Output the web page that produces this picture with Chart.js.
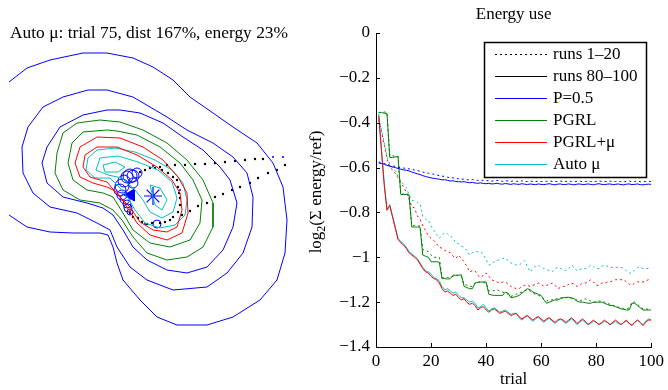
<!DOCTYPE html>
<html>
<head>
<meta charset="utf-8">
<script src="https://cdn.jsdelivr.net/npm/chart.js@4.4.1/dist/chart.umd.min.js"></script>
<style>
  html, body { margin: 0; padding: 0; background: #fff; }
  #wrap { position: relative; width: 668px; height: 390px; }
  #policy { position: absolute; left: 0; top: 0; }
  #energy { position: absolute; left: 300px; top: 0; }
</style>
</head>
<body>
<div id="wrap">
  <canvas id="policy" width="300" height="390"></canvas>
  <canvas id="energy" width="368" height="390"></canvas>
</div>
<script>
// Left: cost contours of the policy plane with the Auto-mu trajectory (trial 75).
// Right: log2 energy use per trial, runs 1-20 dotted vs runs 80-100 solid.

const FONT = '"Liberation Serif", "DejaVu Serif", serif';
const leftTitle = 'Auto \u03bc: trial 75, dist 167%, energy 23%';
const rightTitle = 'Energy use';
const xTitle = 'trial';

const trials = Array.from({ length: 100 }, (_, i) => i + 1);
const xTicks = [0, 20, 40, 60, 80, 100];
const yTicks = [0, -0.2, -0.4, -0.6, -0.8, -1, -1.2, -1.4];

const methods = ['P=0.5', 'PGRL', 'PGRL+\u03bc', 'Auto \u03bc'];
const methodColors = ['#0000ff', '#008000', '#ff0000', '#00bfbf'];
const runLabels = ['runs 1\u201320', 'runs 80\u2013100'];

const p05Early = [
  -0.575,-0.578,-0.582,-0.586,-0.590,-0.592,-0.595,-0.598,-0.600,-0.602,
  -0.604,-0.606,-0.608,-0.611,-0.613,-0.616,-0.620,-0.622,-0.625,-0.628,
  -0.630,-0.633,-0.636,-0.638,-0.640,-0.643,-0.645,-0.646,-0.648,-0.650,
  -0.652,-0.651,-0.654,-0.655,-0.653,-0.656,-0.657,-0.655,-0.658,-0.659,
  -0.657,-0.660,-0.659,-0.657,-0.660,-0.661,-0.658,-0.660,-0.662,-0.659,
  -0.661,-0.662,-0.659,-0.661,-0.663,-0.660,-0.662,-0.663,-0.660,-0.662,
  -0.663,-0.661,-0.659,-0.662,-0.664,-0.661,-0.660,-0.663,-0.662,-0.660,
  -0.662,-0.664,-0.661,-0.660,-0.663,-0.662,-0.660,-0.662,-0.664,-0.661,
  -0.659,-0.662,-0.663,-0.661,-0.660,-0.663,-0.662,-0.660,-0.663,-0.664,
  -0.661,-0.660,-0.663,-0.662,-0.660,-0.663,-0.664,-0.662,-0.661,-0.662
];
const p05Late = [
  -0.580,-0.582,-0.585,-0.590,-0.594,-0.597,-0.600,-0.604,-0.607,-0.610,
  -0.612,-0.615,-0.620,-0.624,-0.628,-0.631,-0.636,-0.640,-0.643,-0.646,
  -0.648,-0.650,-0.652,-0.655,-0.654,-0.657,-0.660,-0.659,-0.662,-0.663,
  -0.664,-0.663,-0.666,-0.668,-0.666,-0.669,-0.670,-0.668,-0.671,-0.672,
  -0.670,-0.673,-0.672,-0.670,-0.673,-0.674,-0.671,-0.673,-0.675,-0.672,
  -0.674,-0.675,-0.672,-0.674,-0.676,-0.673,-0.675,-0.676,-0.673,-0.675,
  -0.676,-0.674,-0.672,-0.675,-0.677,-0.674,-0.673,-0.676,-0.675,-0.673,
  -0.675,-0.677,-0.674,-0.673,-0.676,-0.675,-0.673,-0.675,-0.677,-0.674,
  -0.672,-0.675,-0.676,-0.674,-0.673,-0.676,-0.675,-0.673,-0.676,-0.677,
  -0.674,-0.673,-0.676,-0.675,-0.673,-0.676,-0.677,-0.675,-0.674,-0.675
];
const pgrlEarly = [
  -0.355,-0.352,-0.352,-0.355,-0.550,-0.548,-0.548,-0.550,-0.720,-0.718,
  -0.718,-0.720,-0.860,-0.858,-0.860,-0.860,-0.965,-0.970,-0.975,-0.990,
  -1.000,-1.000,-1.000,-1.090,-1.090,-1.090,-1.088,-1.085,-1.080,-1.082,
  -1.085,-1.120,-1.125,-1.130,-1.130,-1.115,-1.110,-1.110,-1.112,-1.115,
  -1.150,-1.150,-1.148,-1.145,-1.150,-1.155,-1.160,-1.165,-1.175,-1.170,
  -1.165,-1.160,-1.155,-1.150,-1.145,-1.150,-1.160,-1.165,-1.170,-1.175,
  -1.185,-1.195,-1.190,-1.190,-1.185,-1.185,-1.180,-1.180,-1.178,-1.180,
  -1.185,-1.190,-1.190,-1.195,-1.190,-1.185,-1.190,-1.195,-1.200,-1.200,
  -1.195,-1.195,-1.200,-1.205,-1.210,-1.215,-1.220,-1.222,-1.225,-1.228,
  -1.230,-1.225,-1.200,-1.200,-1.210,-1.220,-1.230,-1.230,-1.232,-1.230
];
const pgrlLate = [
  -0.355,-0.355,-0.357,-0.360,-0.555,-0.555,-0.553,-0.550,-0.720,-0.720,
  -0.720,-0.722,-0.865,-0.865,-0.865,-0.866,-0.990,-0.995,-1.000,-1.020,
  -1.020,-1.020,-1.022,-1.095,-1.095,-1.097,-1.095,-1.080,-1.080,-1.080,
  -1.078,-1.130,-1.135,-1.140,-1.140,-1.115,-1.112,-1.110,-1.110,-1.110,
  -1.165,-1.168,-1.170,-1.170,-1.170,-1.170,-1.155,-1.160,-1.180,-1.178,
  -1.175,-1.170,-1.160,-1.150,-1.140,-1.145,-1.155,-1.160,-1.165,-1.170,
  -1.190,-1.205,-1.200,-1.195,-1.190,-1.190,-1.185,-1.180,-1.180,-1.178,
  -1.180,-1.185,-1.195,-1.200,-1.200,-1.202,-1.205,-1.205,-1.200,-1.200,
  -1.200,-1.200,-1.205,-1.210,-1.215,-1.215,-1.220,-1.225,-1.230,-1.232,
  -1.235,-1.235,-1.205,-1.205,-1.215,-1.225,-1.235,-1.235,-1.235,-1.235
];
const muEarly = [
  -0.390,-0.440,-0.500,-0.560,-0.600,-0.610,-0.625,-0.645,-0.670,-0.685,
  -0.710,-0.740,-0.775,-0.780,-0.815,-0.830,-0.860,-0.880,-0.905,-0.915,
  -0.925,-0.940,-0.955,-0.960,-0.970,-0.975,-0.980,-0.995,-1.005,-0.990,
  -1.005,-1.020,-1.040,-1.065,-1.060,-1.060,-1.080,-1.090,-1.080,-1.070,
  -1.085,-1.100,-1.105,-1.110,-1.115,-1.110,-1.110,-1.120,-1.130,-1.135,
  -1.140,-1.140,-1.130,-1.125,-1.125,-1.130,-1.125,-1.120,-1.115,-1.120,
  -1.130,-1.125,-1.120,-1.115,-1.125,-1.140,-1.135,-1.130,-1.130,-1.120,
  -1.115,-1.120,-1.130,-1.125,-1.115,-1.115,-1.110,-1.100,-1.110,-1.125,
  -1.125,-1.115,-1.115,-1.110,-1.110,-1.105,-1.100,-1.100,-1.100,-1.100,
  -1.110,-1.120,-1.125,-1.115,-1.110,-1.110,-1.110,-1.105,-1.100,-1.095
];
const muLate = [
  -0.370,-0.530,-0.680,-0.790,-0.770,-0.820,-0.870,-0.920,-0.935,-0.945,
  -0.960,-0.980,-0.990,-1.000,-1.010,-1.030,-1.050,-1.065,-1.070,-1.085,
  -1.095,-1.100,-1.115,-1.140,-1.155,-1.150,-1.160,-1.170,-1.165,-1.180,
  -1.190,-1.185,-1.200,-1.210,-1.205,-1.215,-1.235,-1.225,-1.220,-1.235,
  -1.245,-1.235,-1.230,-1.240,-1.250,-1.245,-1.240,-1.250,-1.260,-1.255,
  -1.250,-1.265,-1.275,-1.265,-1.260,-1.270,-1.280,-1.270,-1.265,-1.275,
  -1.285,-1.275,-1.270,-1.280,-1.290,-1.280,-1.275,-1.280,-1.290,-1.280,
  -1.270,-1.280,-1.295,-1.285,-1.275,-1.285,-1.300,-1.290,-1.280,-1.290,
  -1.300,-1.290,-1.280,-1.290,-1.300,-1.290,-1.280,-1.290,-1.300,-1.290,
  -1.280,-1.295,-1.305,-1.290,-1.280,-1.290,-1.305,-1.290,-1.280,-1.280
];
const autoEarly = [
  -0.380,-0.430,-0.490,-0.550,-0.585,-0.600,-0.615,-0.640,-0.660,-0.675,
  -0.690,-0.720,-0.745,-0.750,-0.755,-0.760,-0.820,-0.830,-0.835,-0.860,
  -0.880,-0.900,-0.915,-0.900,-0.890,-0.895,-0.905,-0.915,-0.935,-0.940,
  -0.950,-0.955,-0.970,-0.990,-0.980,-0.975,-0.975,-0.975,-0.990,-1.010,
  -1.035,-1.030,-1.020,-1.015,-1.010,-1.005,-1.005,-1.015,-1.025,-1.030,
  -1.035,-1.035,-1.025,-1.015,-1.040,-1.065,-1.050,-1.040,-1.035,-1.045,
  -1.050,-1.055,-1.060,-1.065,-1.050,-1.045,-1.050,-1.055,-1.060,-1.050,
  -1.035,-1.045,-1.060,-1.055,-1.050,-1.050,-1.045,-1.035,-1.040,-1.050,
  -1.050,-1.040,-1.035,-1.040,-1.045,-1.045,-1.045,-1.045,-1.045,-1.050,
  -1.060,-1.070,-1.070,-1.055,-1.045,-1.045,-1.050,-1.050,-1.050,-1.050
];
const autoLate = [
  -0.360,-0.520,-0.670,-0.790,-0.765,-0.815,-0.865,-0.915,-0.930,-0.940,
  -0.955,-0.975,-0.985,-0.995,-1.005,-1.025,-1.045,-1.060,-1.065,-1.075,
  -1.090,-1.095,-1.105,-1.130,-1.145,-1.140,-1.150,-1.160,-1.155,-1.170,
  -1.180,-1.180,-1.190,-1.200,-1.195,-1.205,-1.225,-1.220,-1.210,-1.225,
  -1.240,-1.230,-1.225,-1.235,-1.245,-1.240,-1.235,-1.245,-1.255,-1.250,
  -1.250,-1.270,-1.280,-1.270,-1.260,-1.275,-1.285,-1.275,-1.265,-1.280,
  -1.290,-1.280,-1.270,-1.285,-1.295,-1.285,-1.275,-1.285,-1.295,-1.285,
  -1.275,-1.285,-1.300,-1.290,-1.280,-1.290,-1.300,-1.295,-1.285,-1.290,
  -1.300,-1.295,-1.285,-1.290,-1.300,-1.295,-1.285,-1.295,-1.300,-1.290,
  -1.285,-1.295,-1.300,-1.290,-1.280,-1.290,-1.300,-1.285,-1.275,-1.280
];
const earlyRuns = [p05Early, pgrlEarly, muEarly, autoEarly];
const lateRuns = [p05Late, pgrlLate, muLate, autoLate];

// contour lines of the cost surface, in policy-plane units, outer -> inner
const contourBlue1 = [[9,82],[27,68],[50,60],[83,53],[107,53],[133,58],[153,67],[173,80],[190,97],[213,113],[233,127],[257,143],[273,163],[283,187],[287,220],[285,253],[277,280],[260,300],[233,317],[207,325],[177,325],[157,317],[140,300],[123,280],[117,263],[113,247],[108,235],[100,233],[73,233],[50,232],[27,227],[9,215]];
const contourBlue2 = [[107,90],[133,97],[150,107],[167,117],[187,130],[213,143],[233,157],[247,173],[253,197],[252,227],[243,253],[227,273],[207,287],[173,290],[147,280],[130,267],[117,247],[110,230],[97,223],[77,213],[50,207],[33,193],[23,173],[22,147],[28,127],[43,107],[63,97],[88,90],[107,90]];
const contourBlue3 = [[107,110],[120,110],[140,113],[163,123],[183,137],[203,150],[220,167],[230,180],[237,203],[233,227],[223,250],[207,267],[187,273],[167,270],[147,260],[133,247],[123,230],[113,215],[103,208],[87,203],[63,197],[47,183],[42,163],[47,147],[60,127],[83,115],[107,110]];
const contourGreen1 = [[100,120],[120,122],[143,130],[167,143],[187,160],[203,180],[213,203],[213,227],[203,247],[187,257],[167,260],[147,253],[133,237],[122,220],[113,210],[100,203],[80,200],[63,190],[55,173],[57,153],[63,133],[77,123],[100,120]];
const contourGreen2 = [[107,130],[117,131],[137,135],[160,147],[180,163],[193,180],[202,200],[200,223],[190,240],[170,247],[150,243],[133,230],[123,213],[113,197],[103,193],[87,190],[73,180],[68,163],[72,143],[83,132],[107,130]];
const contourRed1 = [[97,137],[120,138],[143,147],[163,160],[178,177],[187,193],[188,213],[182,233],[167,240],[150,235],[137,223],[127,207],[117,192],[107,187],[93,183],[80,177],[75,163],[80,147],[97,137]];
const contourRed2 = [[97,147],[117,147],[137,155],[157,167],[172,180],[180,193],[182,210],[177,227],[167,232],[153,230],[140,222],[130,207],[118,195],[107,182],[90,177],[83,167],[85,155],[97,147]];
const contourCyan1 = [[97,150],[115,148],[135,152],[155,160],[172,170],[183,183],[187,200],[185,215],[175,225],[160,228],[145,223],[135,210],[128,198],[120,188],[110,178],[95,178],[86,170],[88,158],[97,150]];
const contourCyan2 = [[100,158],[118,156],[138,162],[158,170],[172,182],[177,198],[173,212],[162,218],[150,212],[143,200],[135,190],[122,178],[108,175],[96,170],[100,158]];
const contourCyan3a = [[103,165],[115,162],[125,167],[118,172],[105,172],[103,165]];
const contourCyan3b = [[150,185],[160,188],[167,200],[162,210],[155,205],[150,185]];

const trajectory = [
  [263,159],[255,159],[245,160],[235,161],[225,162],[215,163],[205,164],[195,164],[185,165],[175,165],[167,165],
  [285,165],[277,170],[268,173],[258,178],[250,183],[240,187],[232,190],[223,194],[215,197],[207,203],[198,206],[190,211],[182,215],
  [160,167],[155,168],[150,168],[145,170],[140,172],[162,170],[168,173],[173,177],[177,180],[178,187],[179,193],
  [180,198],[180,205],[178,212],[173,217],[170,220],[165,222],[160,223],[152,223],[147,224],[142,222],[138,218],[133,217],[130,213]
];
const trajectoryBlue = [[273,157],[283,157],[153,166],[180,190],[145,224]];
const samples = [[127,177],[130,176],[133,176],[137,173],[124,181],[122,186],[120,190],[122,195],[125,199],[127,204],[128,208],[130,212],[133,183],[157,224]];
const sampleSizes = [6,7,6,5,6,7,6,5,5,4,4,3,5,4];
const currentPolicy = [[131,195]];
const optimum = [[153,196]];

const pts = arr => arr.map(([x, y]) => ({ x, y }));
const contour = (arr, color) => ({
  type: 'scatter', data: pts(arr), showLine: true, borderColor: color, borderWidth: 1,
  pointRadius: 0, tension: 0, fill: false
});

const policyDecor = {
  id: 'policyDecor',
  afterDraw(chart) {
    const ctx = chart.ctx;
    ctx.save();
    ctx.fillStyle = '#000';
    ctx.font = '17.4px ' + FONT;
    ctx.textAlign = 'left';
    ctx.textBaseline = 'middle';
    ctx.fillText(leftTitle, 10, 33);
    ctx.restore();
  }
};

new Chart(document.getElementById('policy'), {
  type: 'scatter',
  data: {
    datasets: [
      contour(contourBlue1, methodColors[0]),
      contour(contourBlue2, methodColors[0]),
      contour(contourBlue3, methodColors[0]),
      contour(contourGreen1, methodColors[1]),
      contour(contourGreen2, methodColors[1]),
      contour(contourRed1, methodColors[2]),
      contour(contourRed2, methodColors[2]),
      contour(contourCyan1, methodColors[3]),
      contour(contourCyan2, methodColors[3]),
      contour(contourCyan3a, methodColors[3]),
      contour(contourCyan3b, methodColors[3]),
      { data: pts(trajectory), pointRadius: 1.2, pointBackgroundColor: '#000', pointBorderWidth: 0 },
      { data: pts(trajectoryBlue), pointRadius: 1, pointBackgroundColor: '#0000ff', pointBorderWidth: 0 },
      { data: pts(samples), pointRadius: sampleSizes, pointBackgroundColor: 'transparent', pointBorderColor: '#0000ff', pointBorderWidth: 1 },
      { data: pts(currentPolicy), pointStyle: 'triangle', rotation: -90, pointRadius: 7, pointBackgroundColor: '#0000ff', pointBorderColor: '#0000ff' },
      { data: pts(optimum), pointStyle: 'star', pointRadius: 9, pointBorderColor: '#0000ff', pointBorderWidth: 1.2 }
    ]
  },
  options: {
    responsive: false, animation: false,
    layout: { padding: 0, autoPadding: false },
    plugins: { legend: { display: false }, tooltip: { enabled: false } },
    scales: {
      x: { type: 'linear', display: false, min: 0, max: 300 },
      y: { type: 'linear', display: false, min: 0, max: 390, reverse: true }
    }
  },
  plugins: [policyDecor]
});

const energyDecor = {
  id: 'energyDecor',
  afterDraw(chart) {
    const { ctx, chartArea: a, scales: { x, y } } = chart;
    ctx.save();
    // inward tick marks
    ctx.strokeStyle = '#000';
    ctx.lineWidth = 1;
    ctx.beginPath();
    yTicks.forEach(v => {
      const py = Math.round(y.getPixelForValue(v)) + 0.5;
      ctx.moveTo(a.left, py); ctx.lineTo(a.left + 4, py);
    });
    xTicks.forEach(v => {
      const px = Math.round(x.getPixelForValue(v)) + 0.5;
      ctx.moveTo(px, a.bottom); ctx.lineTo(px, a.bottom - 4);
    });
    ctx.stroke();

    ctx.fillStyle = '#000';
    ctx.font = '17px ' + FONT;
    ctx.textAlign = 'center';
    ctx.textBaseline = 'middle';
    ctx.fillText(rightTitle, (a.left + a.right) / 2, 15);

    // y-axis title: log_2(Σ energy/ref)
    const main = '(\u03a3 energy/ref)';
    ctx.font = '17px ' + FONT;
    const wLog = ctx.measureText('log').width;
    const wMain = ctx.measureText(main).width;
    ctx.font = '12px ' + FONT;
    const wSub = ctx.measureText('2').width;
    const total = wLog + wSub + wMain;
    ctx.translate(16, 192);
    ctx.rotate(-Math.PI / 2);
    ctx.textAlign = 'left';
    ctx.textBaseline = 'alphabetic';
    ctx.font = '17px ' + FONT;
    ctx.fillText('log', -total / 2, 5);
    ctx.font = '12px ' + FONT;
    ctx.fillText('2', -total / 2 + wLog, 9);
    ctx.font = '17px ' + FONT;
    ctx.fillText(main, -total / 2 + wLog + wSub, 5);
    ctx.setTransform(1, 0, 0, 1, 0, 0);

    // legend box
    const bx = 184.5, by = 42.5, bw = 162, bh = 135;
    ctx.fillStyle = '#fff';
    ctx.fillRect(bx, by, bw, bh);
    ctx.strokeStyle = '#000';
    ctx.lineWidth = 1.5;
    ctx.strokeRect(bx, by, bw, bh);
    const entries = [
      { label: runLabels[0], color: '#000', dash: [2, 3] },
      { label: runLabels[1], color: '#000', dash: [] }
    ].concat(methods.map((m, i) => ({ label: m, color: methodColors[i], dash: [] })));
    ctx.font = '17px ' + FONT;
    ctx.textAlign = 'left';
    ctx.textBaseline = 'middle';
    entries.forEach((e, i) => {
      const ry = Math.round(54 + i * 22) + 0.5;
      ctx.beginPath();
      ctx.setLineDash(e.dash);
      ctx.strokeStyle = e.color;
      ctx.lineWidth = 1;
      ctx.moveTo(195, ry); ctx.lineTo(247, ry);
      ctx.stroke();
      ctx.setLineDash([]);
      ctx.fillStyle = '#000';
      ctx.fillText(e.label, 253, ry);
    });
    ctx.restore();
  }
};

const series = vals => vals.map((v, i) => ({ x: trials[i], y: v }));
const energySets = [];
methods.forEach((m, i) => {
  energySets.push({ label: m + ' ' + runLabels[0], data: series(earlyRuns[i]), borderColor: methodColors[i], borderDash: [2, 3] });
  energySets.push({ label: m + ' ' + runLabels[1], data: series(lateRuns[i]), borderColor: methodColors[i] });
});

const fmtTick = v => {
  const r = Math.round(v * 10) / 10;
  if (r === 0) return '0';
  return (r < 0 ? '\u2212' : '') + Math.abs(r);
};

new Chart(document.getElementById('energy'), {
  type: 'line',
  data: { datasets: energySets },
  options: {
    responsive: false, animation: false,
    layout: { padding: { top: 33, right: 15, left: 0, bottom: 0 }, autoPadding: false },
    plugins: { legend: { display: false }, tooltip: { enabled: false } },
    elements: { point: { radius: 0 }, line: { borderWidth: 1, tension: 0, fill: false } },
    scales: {
      x: {
        type: 'linear', min: 0, max: 100,
        afterBuildTicks: s => { s.ticks = xTicks.map(v => ({ value: v })); },
        afterFit: s => { s.height = 43; },
        grid: { display: false, drawTicks: false },
        border: { display: true, color: '#000', width: 1 },
        ticks: { color: '#000', font: { family: FONT, size: 17 }, padding: 4, maxRotation: 0 },
        title: { display: true, text: xTitle, color: '#000', font: { family: FONT, size: 17 }, padding: { top: 0, bottom: 0 } }
      },
      y: {
        type: 'linear', min: -1.4, max: 0,
        afterBuildTicks: s => { s.ticks = yTicks.map(v => ({ value: v })); },
        afterFit: s => { s.width = 76; },
        grid: { display: false, drawTicks: false },
        border: { display: true, color: '#000', width: 1 },
        ticks: { color: '#000', font: { family: FONT, size: 17 }, padding: 6, callback: fmtTick }
      }
    }
  },
  plugins: [energyDecor]
});
</script>
</body>
</html>
